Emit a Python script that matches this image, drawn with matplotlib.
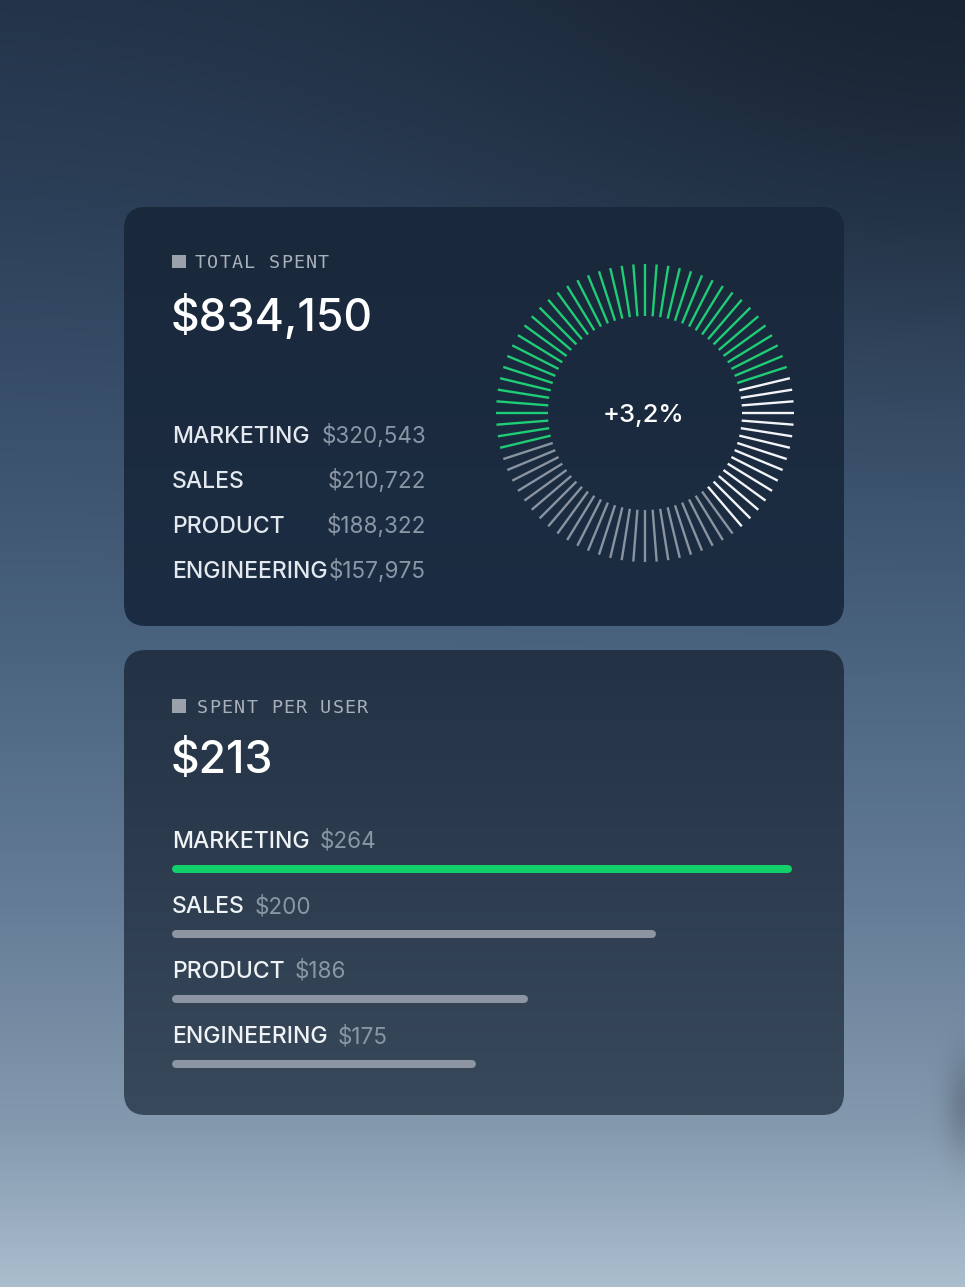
import numpy as np
import matplotlib
matplotlib.use("Agg")
import matplotlib.pyplot as plt
from matplotlib.patches import FancyBboxPatch, Rectangle

W, H = 965, 1287

# ---------------- data ----------------
total_label = "TOTAL SPENT"
total_value = "$834,150"
departments = ["MARKETING", "SALES", "PRODUCT", "ENGINEERING"]
total_spent = ["$320,543", "$210,722", "$188,322", "$157,975"]
change_label = "+3,2%"
ring_total_ticks = 80
ring_start_tick = 4                  # first green tick (counter-clockwise from east)
ring_counts = [40, 25, 15]           # green, grey, white ticks
per_user_label = "SPENT PER USER"
per_user_value = "$213"
per_user = ["$264", "$200", "$186", "$175"]
bar_pct = [100, 78, 57.4, 49]        # bar length, % of the track

# ---------------- style ----------------
SANS = ["Inter", "DejaVu Sans"]
MONO = ["DejaVu Sans Mono"]
GREEN_TICK = "#1fcd76"
GREEN_BAR = "#12d06a"
WHITE_TICK = "#f2f4f7"
GREY_TICK = "#8a94a1"
GREY_BAR = "#8c95a1"
LABEL_C = "#e3e9ef"
VALUE_C = "#8a96a4"
HEAD_C = "#a8b0ba"
SQ_C = "#9aa1ab"

def px2pt(p):
    return p * 72 / 100.0

fig = plt.figure(figsize=(W / 100, H / 100), dpi=100)
ax = fig.add_axes([0, 0, 1, 1])
ax.set_axis_off()

# ---------------- background ----------------
yy, xx = np.mgrid[0:H, 0:W].astype(float)
stops_y = [0, 200, 450, 650, 900, 1130, 1287]
stops_c = np.array([(36, 53, 75), (44, 64, 89), (60, 83, 110), (74, 99, 127),
                    (100, 124, 150), (133, 154, 175), (170, 190, 206)], float)
bg = np.zeros((H, W, 3))
for c in range(3):
    bg[..., c] = np.interp(yy[:, 0], stops_y, stops_c[:, c])[:, None]
dark = 0.32 * np.exp(-((xx - W) ** 2 / (2 * 380 ** 2) + yy ** 2 / (2 * 240 ** 2)))
dark += 0.18 * np.exp(-((xx - W) ** 2 / (2 * 14 ** 2) + (yy - 1105) ** 2 / (2 * 35 ** 2)))
bg *= (1 - dark)[..., None]
ax.imshow(np.clip(bg / 255, 0, 1), extent=(0, W, H, 0), aspect="auto",
          interpolation="bilinear", zorder=0)

def card(x0, y0, w, h, top, bottom):
    patch = FancyBboxPatch((x0, y0), w, h, boxstyle="round,pad=0,rounding_size=22",
                           facecolor="none", edgecolor="none", zorder=1)
    ax.add_patch(patch)
    t = np.linspace(0, 1, 64)[:, None]
    g = np.array(top, float)[None, :] * (1 - t) + np.array(bottom, float)[None, :] * t
    g = np.repeat(g[:, None, :], 8, axis=1) / 255
    im = ax.imshow(g, extent=(x0, x0 + w, y0 + h, y0), aspect="auto",
                   interpolation="bilinear", zorder=1)
    im.set_clip_path(patch)

card(124, 207, 720, 419, (26, 40, 59), (28, 45, 67))
card(124, 650, 720, 465, (35, 50, 68), (56, 73, 91))

def header(x_sq, y_sq, text, x_text, baseline):
    ax.add_patch(Rectangle((x_sq, y_sq), 13.5, 13.5, facecolor=SQ_C,
                           edgecolor="none", zorder=3))
    for i, ch in enumerate(text):
        ax.text(x_text + i * 12.3, baseline, ch, family=MONO, fontsize=px2pt(18.5),
                color=HEAD_C, ha="left", va="baseline", zorder=3)

# ---------------- card 1 ----------------
header(172, 254.5, total_label, 195, 268)
ax.text(171, 331, total_value, family=SANS, fontsize=px2pt(44.5), color="white",
        weight="medium", ha="left", va="baseline", zorder=3)
for i, (d, v) in enumerate(zip(departments, total_spent)):
    yb = 443 + 45 * i
    ax.text(172, yb, d, family=SANS, fontsize=px2pt(23), color=LABEL_C,
            weight="medium", ha="left", va="baseline", zorder=3)
    ax.text(426, yb, v, family=SANS, fontsize=px2pt(22.5), color=VALUE_C,
            ha="right", va="baseline", zorder=3)

# donut of ticks
cx, cy, R = 645, 413, 150
axp = fig.add_axes([(cx - R) / W, (H - cy - R) / H, 2 * R / W, 2 * R / H],
                   projection="polar")
axp.set_axis_off()
axp.patch.set_alpha(0)
axp.set_ylim(0, R)
seg_colors = [GREEN_TICK, GREY_TICK, WHITE_TICK]
k = ring_start_tick
thetas, cols = [], []
for n, col in zip(ring_counts, seg_colors):
    for _ in range(n):
        thetas.append(np.deg2rad(360.0 / ring_total_ticks * k))
        cols.append(col)
        k += 1
axp.vlines(thetas, 97, 149, colors=cols, linewidth=1.7)
ax.text(643, 422, change_label, family=SANS, fontsize=px2pt(25.5), color="white",
        weight="medium", ha="center", va="baseline", zorder=3)

# ---------------- card 2 ----------------
header(172, 699, per_user_label, 197, 713)
ax.text(171, 773, per_user_value, family=SANS, fontsize=px2pt(44.5), color="white",
        weight="medium", ha="left", va="baseline", zorder=3)

row_h = 65
axb = fig.add_axes([172 / W, (H - (869 - row_h / 2 + 4 * row_h)) / H, 620 / W, 4 * row_h / H])
axb.set_axis_off()
axb.patch.set_alpha(0)
axb.set_xlim(0, 100)
axb.set_ylim(3.5, -0.5)
cap = 4 / 620 * 100
lc = axb.hlines(range(len(bar_pct)), cap, [p - cap for p in bar_pct],
                colors=[GREEN_BAR] + [GREY_BAR] * (len(bar_pct) - 1),
                linewidth=px2pt(8))
lc.set_capstyle("round")

for i, (d, v) in enumerate(zip(departments, per_user)):
    yb = 848 + row_h * i
    lab = ax.text(172, yb, d, family=SANS, fontsize=px2pt(23), color="#f0f3f6",
                  weight="medium", ha="left", va="baseline", zorder=3)
    ax.annotate(v, xy=(1, 0), xycoords=lab, xytext=(10, 0), textcoords="offset pixels",
                family=SANS, fontsize=px2pt(22.5), color=VALUE_C, ha="left",
                va="bottom", zorder=3)

ax.set_xlim(0, W)
ax.set_ylim(H, 0)
fig.savefig("out.png", dpi=100)
